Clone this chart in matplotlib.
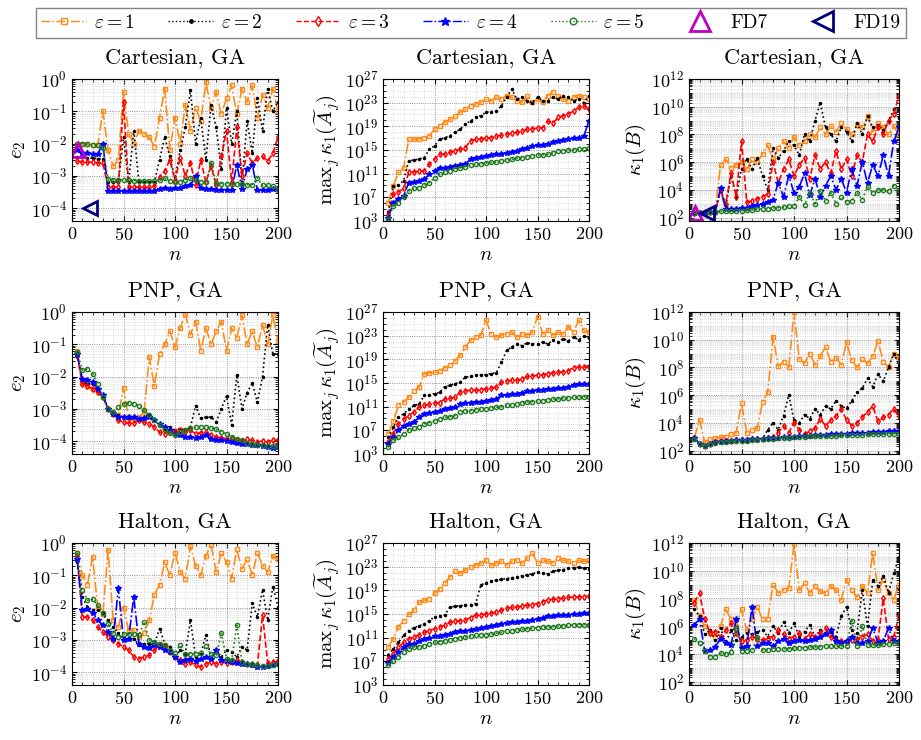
import numpy as np
import matplotlib.pyplot as plt
from matplotlib.lines import Line2D
from matplotlib.ticker import LogLocator, MultipleLocator

plt.rcParams.update({
    "font.family": "serif",
    "font.serif": ["cmr10"],
    "mathtext.fontset": "cm",
    "axes.formatter.use_mathtext": True,
})

# sample sizes
n = np.arange(5, 201, 5)

# ---- Cartesian, GA : log10 of e_2 ----
cart_e2_1 = [-2.0, -2.0, -2.02, -2.05, -2.05, -1.0, -2.2, -2.7, -2.5, -0.4, -1.7, -2.0, -1.6, -1.7, -1.8, -2.1, -1.2, -0.3, -2.2, -1.2,
             -2.0, -0.8, -1.6, -0.9, -1.3, -0.1, -0.9, -0.4, -1.1, -0.6, -0.2, -1.1, -0.3, -0.7, -0.2, -1.2, -0.5, -0.9, -0.3, -1.0]
cart_e2_2 = [-2.42, -2.43, -2.45, -2.45, -2.47, -2.47, -3.2, -3.2, -3.2, -1.8, -3.2, -1.6, -3.2, -3.2, -3.2, -3.2, -2.5, -1.8, -2.4, -3.1,
             -2.2, -1.5, -0.35, -2.0, -1.2, -2.5, -0.8, -1.5, -2.8, -0.9, -2.0, -1.0, -3.2, -1.3, -2.3, -0.6, -1.6, -0.3, -1.0, -0.7]
cart_e2_3 = [-2.55, -2.57, -2.58, -2.58, -2.6, -2.6, -3.35, -3.35, -3.35, -0.7, -3.35, -3.35, -3.35, -3.36, -3.36, -3.33, -3.05, -2.85, -2.5, -3.15,
             -2.45, -3.0, -2.6, -3.3, -2.5, -3.2, -2.7, -3.3, -2.4, -1.6, -3.2, -1.5, -3.0, -2.3, -2.6, -2.45, -2.4, -2.55, -2.3, -1.8]
cart_e2_4 = [-2.2, -2.28, -2.3, -2.32, -2.32, -2.0, -3.47, -3.47, -3.47, -3.46, -3.46, -3.46, -3.46, -3.46, -3.46, -3.46, -3.4, -3.38, -3.4, -3.38,
             -3.37, -3.33, -3.3, -3.0, -3.38, -3.42, -3.42, -3.43, -3.43, -3.43, -3.44, -2.65, -3.4, -2.8, -2.65, -3.45, -3.45, -3.45, -3.4, -3.42]
cart_e2_5 = [-2.0, -2.0, -2.02, -2.05, -2.05, -2.15, -3.1, -3.12, -3.12, -3.13, -3.14, -3.15, -3.15, -3.16, -3.16, -3.17, -3.13, -3.08, -3.15, -3.18,
             -3.18, -3.12, -3.08, -3.13, -3.18, -3.2, -2.6, -3.23, -3.24, -3.25, -3.25, -3.25, -3.26, -3.27, -3.27, -3.06, -3.3, -3.3, -3.32, -3.45]

# ---- Cartesian, GA : log10 of max_j kappa_1(A_j) ----
cart_mk_1 = [6.1, 8.9, 11.2, 12.0, 16.8, 16.8, 16.9, 17.1, 17.4, 18.5, 19.1, 19.7, 20.2, 20.8, 21.4, 21.9, 22.5, 22.8, 23.1, 23.6,
             23.3, 23.9, 23.6, 24.2, 23.9, 23.3, 23.1, 24.2, 23.1, 23.6, 23.1, 24.2, 24.8, 24.2, 23.6, 23.3, 23.9, 24.2, 23.9, 23.6]
cart_mk_2 = [4.5, 8.9, 9.1, 9.8, 13.2, 13.3, 13.5, 13.7, 15.1, 15.7, 16.8, 17.1, 17.4, 18.0, 18.5, 19.4, 19.9, 20.5, 20.8, 21.4,
             21.5, 21.6, 22.5, 23.9, 25.3, 23.6, 23.9, 23.3, 23.0, 23.9, 23.3, 23.3, 23.9, 23.6, 24.2, 23.9, 23.3, 23.6, 23.0, 24.2]
cart_mk_3 = [4.0, 7.5, 7.9, 8.5, 11.2, 11.3, 11.4, 11.5, 12.6, 13.5, 14.3, 14.3, 14.6, 14.9, 15.1, 15.4, 16.6, 16.8, 16.9, 17.0,
             17.1, 17.3, 17.5, 17.7, 17.8, 18.0, 18.2, 18.5, 18.6, 18.7, 18.8, 19.9, 19.5, 20.5, 20.8, 21.1, 21.6, 22.2, 22.5, 21.9]
cart_mk_4 = [3.5, 6.1, 6.7, 7.2, 9.5, 9.6, 9.8, 10.1, 10.9, 11.5, 12.0, 12.0, 12.1, 12.3, 12.4, 12.6, 13.5, 13.7, 13.8, 14.0,
             14.1, 14.3, 14.4, 14.5, 14.7, 14.9, 15.1, 15.4, 15.6, 15.8, 15.9, 16.0, 16.3, 16.6, 16.7, 16.8, 17.0, 17.1, 17.4, 19.9]
cart_mk_5 = [3.3, 5.5, 6.1, 7.0, 8.1, 8.5, 8.6, 9.0, 9.5, 10.3, 10.9, 11.2, 11.5, 11.8, 12.0, 12.2, 12.4, 12.6, 12.7, 12.8,
             12.9, 13.0, 13.2, 13.3, 13.4, 13.6, 13.7, 13.9, 14.0, 14.2, 14.2, 14.3, 14.5, 14.8, 14.9, 15.0, 15.0, 15.1, 15.2, 15.4]

# ---- Cartesian, GA : log10 of kappa_1(B) ----
cart_kb_1 = [2.3, 2.3, 2.35, 2.4, 2.42, 5.8, 6.2, 5.6, 5.8, 6.0, 5.5, 6.2, 6.0, 6.6, 7.2, 6.2, 7.0, 7.5, 7.0, 7.8,
             7.2, 7.5, 8.0, 7.8, 8.5, 8.0, 8.6, 8.2, 8.8, 8.4, 8.0, 8.7, 8.5, 9.3, 8.2, 8.8, 8.5, 8.0, 8.6, 8.0]
cart_kb_2 = [2.3, 2.3, 2.35, 2.4, 2.42, 4.0, 2.8, 5.0, 3.5, 5.5, 6.2, 5.5, 6.3, 5.0, 4.0, 7.0, 6.3, 6.8, 7.5, 7.2,
             6.5, 8.0, 7.5, 9.0, 10.3, 8.5, 8.0, 7.5, 8.5, 8.2, 7.5, 8.8, 8.0, 9.3, 8.5, 8.7, 8.3, 9.0, 9.8, 9.2]
cart_kb_3 = [2.3, 2.3, 2.35, 2.4, 2.42, 4.0, 3.0, 5.2, 3.5, 7.5, 3.1, 3.2, 3.35, 3.5, 3.7, 6.0, 4.5, 5.5, 6.2, 5.0,
             5.8, 6.3, 4.8, 6.5, 5.5, 6.0, 5.2, 6.8, 5.5, 6.2, 5.0, 6.5, 6.0, 8.0, 7.5, 8.5, 8.0, 9.0, 9.5, 10.8]
cart_kb_4 = [2.3, 2.3, 2.35, 2.4, 2.42, 4.1, 2.6, 2.62, 2.64, 2.66, 2.7, 2.8, 2.9, 3.0, 3.1, 3.3, 4.5, 3.5, 5.0, 3.8,
             4.2, 5.2, 3.6, 4.8, 3.5, 4.3, 5.0, 4.0, 4.8, 3.8, 5.5, 4.3, 6.0, 4.5, 5.8, 5.0, 6.5, 5.0, 7.5, 8.5]
cart_kb_5 = [2.3, 2.3, 2.35, 2.4, 2.42, 2.45, 2.5, 2.5, 2.5, 2.5, 2.52, 2.55, 2.6, 2.62, 2.65, 2.7, 2.72, 2.75, 2.8, 2.8,
             3.5, 2.9, 3.8, 3.0, 3.9, 3.2, 3.8, 3.0, 3.5, 3.1, 3.2, 3.8, 3.3, 4.2, 3.8, 4.0, 4.0, 3.9, 4.3, 4.0]

# ---- PNP, GA : log10 of e_2 ----
pnp_e2_1 = [-1.2, -2.2, -2.3, -2.38, -2.48, -2.64, -3.0, -3.1, -3.2, -2.35, -3.3, -3.3, -3.25, -3.1, -1.4, -2.3, -1.3, -1.0, -0.6, -1.1,
            -0.5, -0.05, -0.7, -0.3, -1.2, -0.5, -1.0, -0.6, -0.3, -1.2, -0.5, -0.8, -0.1, -1.0, -0.6, -1.1, -0.4, -1.0, -0.1, -0.9]
pnp_e2_2 = [-1.3, -2.17, -2.22, -2.24, -2.38, -2.58, -3.0, -3.15, -3.2, -3.26, -3.28, -3.26, -3.31, -3.28, -3.15, -3.36, -3.46, -3.62, -3.57, -3.65,
            -3.62, -3.65, -3.57, -2.9, -3.3, -3.26, -3.26, -3.4, -3.0, -2.6, -3.5, -1.95, -3.0, -2.5, -2.2, -2.8, -2.0, -0.4, -1.3, -1.3]
pnp_e2_3 = [-1.35, -2.22, -2.3, -2.38, -2.48, -2.64, -3.0, -3.15, -3.36, -3.41, -3.44, -3.44, -3.36, -3.41, -3.46, -3.57, -3.72, -3.77, -3.69, -3.72,
            -3.67, -3.72, -3.67, -3.77, -3.74, -3.72, -3.82, -3.87, -3.9, -3.92, -3.95, -3.98, -4.0, -3.95, -3.98, -4.03, -4.0, -4.03, -3.96, -3.98]
pnp_e2_4 = [-1.3, -2.07, -2.12, -2.17, -2.38, -2.58, -3.0, -3.15, -3.26, -3.26, -3.24, -3.26, -3.31, -3.28, -3.26, -3.36, -3.46, -3.57, -3.67, -3.79,
            -3.82, -3.86, -3.88, -3.9, -3.86, -3.82, -3.93, -3.96, -3.98, -4.0, -4.03, -4.05, -4.08, -4.1, -4.11, -4.13, -4.15, -4.19, -4.21, -4.19]
pnp_e2_5 = [-1.25, -1.8, -1.76, -1.91, -2.22, -2.64, -3.0, -3.1, -2.95, -2.86, -2.82, -2.84, -2.92, -3.05, -3.2, -3.36, -3.51, -3.67, -3.75, -3.82,
            -3.72, -3.65, -3.6, -3.57, -3.57, -3.57, -3.59, -3.64, -3.72, -3.77, -3.86, -3.93, -3.98, -4.05, -4.08, -4.11, -4.13, -4.15, -4.16, -4.15]

# ---- PNP, GA : log10 of max_j kappa_1(A_j) ----
pnp_mk_1 = [6.4, 8.6, 11.2, 11.8, 12.6, 13.7, 14.3, 16.6, 16.7, 16.8, 17.1, 17.6, 18.0, 18.8, 19.7, 21.1, 22.2, 22.8, 23.1, 25.6,
            23.3, 22.8, 23.1, 23.3, 23.6, 22.8, 23.3, 23.1, 23.6, 26.2, 23.3, 23.9, 23.1, 23.6, 23.3, 24.5, 23.6, 25.6, 23.9, 23.6]
pnp_mk_2 = [5.8, 7.5, 9.2, 9.8, 10.6, 11.2, 11.4, 12.9, 13.0, 13.2, 13.4, 14.4, 14.6, 14.9, 15.1, 16.0, 16.1, 16.3, 16.4, 16.4,
            16.6, 16.7, 18.5, 20.5, 21.1, 21.6, 21.3, 21.8, 21.6, 21.6, 21.9, 21.6, 22.2, 21.9, 22.5, 22.1, 22.8, 22.3, 22.9, 22.6]
pnp_mk_3 = [5.0, 6.4, 8.1, 8.9, 9.5, 10.1, 10.9, 11.2, 11.4, 11.6, 11.7, 12.3, 12.4, 12.6, 13.5, 13.7, 13.75, 13.8, 13.9, 14.0,
            14.1, 14.3, 15.1, 15.4, 15.45, 15.5, 15.6, 16.1, 16.2, 16.3, 16.4, 16.6, 16.7, 16.8, 16.9, 17.1, 17.6, 17.7, 17.7, 17.7]
pnp_mk_4 = [4.7, 5.8, 7.0, 7.8, 8.1, 8.4, 9.2, 9.8, 9.9, 10.1, 10.2, 10.6, 10.7, 10.9, 11.4, 11.6, 11.7, 11.8, 11.85, 11.9,
            12.1, 12.3, 12.9, 13.0, 13.1, 13.2, 13.3, 13.6, 13.7, 13.8, 13.9, 14.0, 14.05, 14.1, 14.2, 14.4, 14.6, 14.8, 14.85, 14.9]
pnp_mk_5 = [4.1, 5.3, 5.8, 6.4, 7.1, 7.4, 7.6, 8.1, 8.3, 8.6, 8.9, 9.2, 9.3, 9.5, 10.1, 10.2, 10.35, 10.5, 10.55, 10.6,
            10.75, 10.9, 11.0, 11.2, 11.3, 11.4, 11.6, 11.8, 11.85, 11.9, 12.0, 12.2, 12.25, 12.3, 12.4, 12.5, 12.55, 12.6, 12.65, 12.7]

# ---- PNP, GA : log10 of kappa_1(B) ----
pnp_kb_1 = [2.9, 4.2, 2.6, 2.8, 2.9, 2.95, 3.0, 3.2, 3.3, 5.4, 3.3, 3.5, 3.6, 5.5, 6.2, 10.2, 8.1, 8.4, 8.0, 12.0,
            8.6, 8.3, 9.0, 8.2, 8.8, 9.5, 8.4, 8.7, 8.2, 9.8, 8.5, 8.0, 8.6, 8.3, 8.8, 9.9, 8.4, 8.0, 9.0, 8.7]
pnp_kb_2 = [2.9, 2.5, 2.3, 2.5, 2.6, 2.7, 2.7, 2.72, 2.75, 2.75, 2.78, 2.8, 2.85, 2.85, 3.5, 4.0, 3.5, 4.5, 6.0, 4.2,
            4.0, 4.6, 4.3, 5.0, 4.6, 5.2, 5.0, 5.6, 5.2, 5.05, 5.6, 6.2, 6.5, 7.2, 6.6, 7.5, 7.0, 8.0, 9.0, 8.2]
pnp_kb_3 = [2.9, 2.5, 2.3, 2.5, 2.6, 2.7, 2.7, 2.72, 2.75, 2.75, 2.78, 2.8, 2.85, 2.85, 2.9, 3.0, 3.3, 3.8, 3.3, 4.0,
            3.5, 3.2, 3.4, 3.6, 4.3, 3.8, 4.2, 4.5, 5.0, 4.2, 3.8, 4.0, 4.4, 4.8, 5.2, 4.1, 4.4, 4.6, 5.0, 4.5]
pnp_kb_4 = [2.9, 2.5, 2.3, 2.5, 2.6, 2.65, 2.7, 2.72, 2.74, 2.75, 2.77, 2.8, 2.83, 2.85, 2.88, 2.9, 2.93, 2.95, 2.98, 3.0,
            3.03, 3.05, 3.08, 3.1, 3.12, 3.14, 3.16, 3.18, 3.2, 3.22, 3.24, 3.26, 3.28, 3.3, 3.32, 3.34, 3.36, 3.38, 3.4, 3.42]
pnp_kb_5 = [2.85, 2.5, 2.3, 2.5, 2.55, 2.62, 2.65, 2.67, 2.68, 2.7, 2.72, 2.75, 2.78, 2.8, 2.83, 2.85, 2.88, 2.9, 2.93, 2.97,
            2.99, 3.0, 3.02, 3.03, 3.04, 3.05, 3.07, 3.08, 3.1, 3.1, 3.12, 3.13, 3.15, 3.16, 3.17, 3.18, 3.19, 3.2, 3.21, 3.22]

# ---- Halton, GA : log10 of e_2 ----
hal_e2_1 = [-0.3, -1.0, -1.3, -0.42, -2.0, -2.2, -0.21, -2.4, -2.6, -2.0, -2.7, -2.7, -2.9, -2.8, -2.4, -1.6, -1.3, -0.6, -1.0, -0.3,
            -0.9, -1.1, -0.1, -0.7, -1.0, -0.4, -0.05, -0.9, -0.3, -0.6, -1.1, -0.2, -0.8, -0.5, -1.0, -0.3, -0.7, -0.9, -0.4, -0.5]
hal_e2_2 = [-0.6, -1.66, -1.98, -2.08, -2.08, -2.18, -2.39, -2.6, -2.8, -2.96, -2.91, -2.96, -3.17, -3.12, -3.12, -3.12, -2.65, -3.12, -3.22, -3.53,
            -3.32, -3.43, -2.39, -3.53, -3.43, -2.86, -3.53, -3.32, -3.53, -3.32, -3.38, -3.53, -3.22, -3.32, -1.87, -2.29, -1.45, -2.39, -1.35, -1.97]
hal_e2_3 = [-0.4, -2.29, -2.29, -2.39, -2.6, -2.75, -2.91, -3.01, -3.12, -3.22, -3.32, -3.53, -3.58, -3.53, -3.48, -3.32, -3.17, -3.22, -3.38, -3.53,
            -3.64, -3.74, -3.69, -3.79, -3.84, -3.74, -3.69, -3.74, -3.69, -3.72, -3.69, -3.64, -3.69, -3.74, -3.76, -3.79, -2.23, -3.72, -3.69, -3.66]
hal_e2_4 = [-0.5, -2.08, -2.06, -2.18, -2.39, -2.55, -2.75, -2.96, -1.4, -3.01, -2.96, -1.66, -3.12, -3.22, -3.24, -3.17, -3.22, -3.32, -3.38, -3.53,
            -3.69, -3.62, -3.59, -3.66, -3.59, -3.53, -3.59, -3.3, -3.64, -3.66, -3.69, -3.72, -3.74, -3.76, -3.79, -3.84, -3.84, -3.82, -3.79, -3.76]
hal_e2_5 = [-0.3, -1.45, -1.77, -1.75, -1.92, -2.18, -2.5, -2.8, -2.91, -2.83, -2.81, -2.83, -2.86, -2.44, -3.0, -3.06, -3.12, -3.17, -3.32, -3.41,
            -3.17, -3.45, -3.43, -3.43, -3.41, -3.2, -3.45, -3.48, -2.8, -3.58, -3.64, -2.55, -3.69, -3.74, -3.76, -3.79, -3.81, -3.82, -3.79, -3.76]

# ---- Halton, GA : log10 of max_j kappa_1(A_j) ----
hal_mk_1 = [9.4, 10.8, 12.8, 13.9, 15.0, 15.6, 17.0, 17.3, 17.6, 18.5, 19.3, 20.2, 21.3, 22.2, 21.9, 22.4, 23.0, 23.3, 23.6, 24.1,
            23.3, 23.6, 23.9, 23.3, 23.9, 24.1, 23.6, 24.4, 25.3, 23.6, 24.1, 23.9, 23.7, 24.4, 24.1, 23.9, 23.6, 24.1, 23.9, 24.1]
hal_mk_2 = [8.1, 9.1, 10.2, 11.4, 12.2, 12.7, 13.0, 13.3, 13.9, 14.5, 14.7, 14.8, 16.2, 16.3, 16.4, 16.5, 16.6, 16.75, 19.9, 20.3,
            20.5, 20.7, 20.85, 21.0, 21.1, 21.3, 21.45, 21.6, 21.8, 22.1, 21.9, 21.8, 22.2, 22.4, 22.5, 22.7, 22.8, 22.9, 22.7, 22.6]
hal_mk_3 = [7.4, 8.2, 9.4, 10.2, 10.8, 11.1, 11.5, 11.9, 12.2, 12.5, 12.8, 13.1, 13.6, 13.8, 13.9, 14.0, 14.4, 14.8, 14.9, 15.0,
            15.15, 15.3, 15.65, 16.0, 16.1, 16.2, 16.35, 16.5, 16.6, 16.75, 17.1, 17.4, 17.5, 17.6, 17.7, 17.8, 17.85, 17.9, 17.95, 18.0]
hal_mk_4 = [6.8, 7.7, 8.5, 9.4, 9.9, 10.0, 10.4, 10.8, 11.0, 11.2, 11.35, 11.5, 11.7, 11.9, 12.05, 12.2, 12.35, 12.5, 12.65, 12.8,
            12.95, 13.1, 13.3, 13.5, 13.6, 13.7, 13.8, 13.9, 14.05, 14.2, 14.4, 14.6, 14.7, 14.8, 14.85, 14.9, 14.95, 15.0, 15.1, 15.2]
hal_mk_5 = [6.4, 7.0, 7.7, 8.5, 9.1, 9.4, 9.5, 9.6, 9.9, 10.2, 10.35, 10.5, 10.65, 10.8, 10.95, 11.1, 11.25, 11.4, 11.45, 11.5,
            11.6, 11.75, 11.9, 12.1, 12.2, 12.3, 12.4, 12.5, 12.6, 12.7, 12.75, 12.8, 12.85, 12.9, 13.0, 13.1, 13.15, 13.2, 13.2, 13.2]

# ---- Halton, GA : log10 of kappa_1(B) ----
hal_kb_1 = [7.9, 6.7, 6.0, 5.5, 5.25, 6.0, 7.2, 6.5, 6.0, 7.2, 5.7, 6.5, 7.4, 6.5, 6.5, 9.0, 8.4, 8.6, 8.75, 11.9,
            8.6, 9.1, 8.4, 8.9, 8.5, 8.4, 8.9, 8.6, 7.9, 9.35, 8.6, 8.1, 8.9, 8.4, 11.3, 8.6, 9.35, 8.4, 7.9, 9.0]
hal_kb_2 = [7.2, 6.7, 5.4, 5.7, 5.0, 5.86, 4.8, 5.7, 5.0, 5.25, 5.5, 5.4, 5.6, 5.7, 5.25, 6.0, 5.5, 6.3, 5.5, 6.2,
            5.25, 5.6, 6.1, 5.25, 5.7, 5.5, 5.6, 5.25, 6.7, 7.4, 5.7, 5.5, 8.6, 6.0, 9.3, 8.9, 9.6, 8.4, 9.8, 11.0]
hal_kb_3 = [7.7, 8.4, 6.5, 5.5, 5.6, 5.25, 5.7, 6.2, 5.5, 4.9, 5.0, 5.25, 5.1, 5.0, 5.1, 5.25, 5.7, 5.4, 5.1, 5.25,
            5.5, 5.1, 5.4, 5.25, 5.5, 5.86, 5.25, 5.0, 4.9, 4.95, 5.0, 5.05, 5.25, 5.4, 4.95, 5.0, 8.0, 5.1, 5.25, 6.7]
hal_kb_4 = [6.1, 6.5, 4.2, 4.3, 4.5, 5.1, 4.8, 4.65, 6.5, 4.41, 4.53, 7.4, 4.53, 4.77, 4.77, 4.53, 4.9, 5.1, 4.77, 4.9,
            5.0, 4.9, 5.0, 5.1, 5.25, 5.4, 5.75, 4.9, 4.77, 4.9, 5.25, 4.77, 4.8, 4.9, 5.86, 4.8, 4.9, 5.86, 4.9, 4.96]
hal_kb_5 = [5.1, 4.8, 4.2, 3.8, 3.8, 4.05, 4.0, 4.1, 5.85, 4.2, 4.22, 4.25, 5.2, 4.28, 4.3, 4.35, 4.35, 4.37, 4.38, 4.4,
            4.42, 4.45, 4.5, 4.5, 4.52, 4.6, 4.6, 4.55, 4.55, 4.6, 6.4, 4.6, 6.0, 4.65, 4.65, 4.65, 4.7, 4.7, 4.75, 4.8]

# finite-difference reference values (Cartesian only)
fd_n = [6, 17]
fd_e2 = [-2.2, -4.0]
fd_kb = [2.35, 2.35]

eps_labels = [r"$\varepsilon = 1$", r"$\varepsilon = 2$", r"$\varepsilon = 3$",
              r"$\varepsilon = 4$", r"$\varepsilon = 5$"]
row_titles = ["Cartesian, GA", "PNP, GA", "Halton, GA"]

rows = [
    [[cart_e2_1, cart_e2_2, cart_e2_3, cart_e2_4, cart_e2_5],
     [cart_mk_1, cart_mk_2, cart_mk_3, cart_mk_4, cart_mk_5],
     [cart_kb_1, cart_kb_2, cart_kb_3, cart_kb_4, cart_kb_5]],
    [[pnp_e2_1, pnp_e2_2, pnp_e2_3, pnp_e2_4, pnp_e2_5],
     [pnp_mk_1, pnp_mk_2, pnp_mk_3, pnp_mk_4, pnp_mk_5],
     [pnp_kb_1, pnp_kb_2, pnp_kb_3, pnp_kb_4, pnp_kb_5]],
    [[hal_e2_1, hal_e2_2, hal_e2_3, hal_e2_4, hal_e2_5],
     [hal_mk_1, hal_mk_2, hal_mk_3, hal_mk_4, hal_mk_5],
     [hal_kb_1, hal_kb_2, hal_kb_3, hal_kb_4, hal_kb_5]],
]

styles = [
    dict(color="#ff8c1a", ls="-.", marker="s", ms=3, mfc="none"),
    dict(color="black", ls=":", marker=".", ms=3),
    dict(color="#ff0000", ls="--", marker="d", ms=3, mfc="none"),
    dict(color="#0000ff", ls="-.", marker="*", ms=4),
    dict(color="#1e7a1e", ls=":", marker="o", ms=3, mfc="none"),
]
fd7_style = dict(ls="none", marker="^", color="#c000c0", mfc="none", mew=2)
fd19_style = dict(ls="none", marker="<", color="#00007f", mfc="none", mew=2)

ylabels = [r"$e_2$", r"$\mathrm{max}_j\,\kappa_1(\widetilde{A}_j)$", r"$\kappa_1(B)$"]
ylims = [(10 ** -4.4, 1.0), (1e3, 1e27), (10 ** 1.75, 1e12)]
yticks = [[10.0 ** k for k in range(-4, 1)],
          [10.0 ** k for k in range(3, 28, 4)],
          [10.0 ** k for k in range(2, 13, 2)]]

col_left = [72, 383, 689]
col_width = [206, 206, 210]
row_top = [79, 312, 543]
row_height = 142
W, H = 921, 740

fig = plt.figure(figsize=(W / 100, H / 100), dpi=100)

for r in range(3):
    for c in range(3):
        ax = fig.add_axes([col_left[c] / W, 1 - (row_top[r] + row_height) / H,
                           col_width[c] / W, row_height / H])
        for vals, st in zip(rows[r][c], styles):
            ax.plot(n, 10.0 ** np.array(vals), lw=1.2, mew=1.0, **st)
        if r == 0 and c != 1:
            fd_vals = fd_e2 if c == 0 else fd_kb
            ax.plot(fd_n[0], 10.0 ** fd_vals[0], ms=10, **fd7_style)
            ax.plot(fd_n[1], 10.0 ** fd_vals[1], ms=10, **fd19_style)

        ax.set_yscale("log")
        ax.set_xlim(0, 200)
        ax.set_ylim(*ylims[c])
        ax.set_yticks(yticks[c])
        if c == 1:
            ax.yaxis.set_minor_locator(LogLocator(base=10, subs=(1.0,), numticks=40))
        else:
            ax.yaxis.set_minor_locator(LogLocator(base=10, subs=np.arange(1, 10), numticks=40))
        ax.yaxis.set_minor_formatter(plt.NullFormatter())
        ax.xaxis.set_major_locator(MultipleLocator(50))
        ax.xaxis.set_minor_locator(MultipleLocator(10))
        ax.grid(True, which="major", ls=":", color="0.45", lw=0.6)
        ax.grid(True, which="minor", ls=":", color="0.78", lw=0.5)
        ax.tick_params(which="both", direction="in", top=True, right=True, labelsize=13)
        ax.tick_params(which="minor", length=2)
        ax.set_title(row_titles[r], fontsize=16, pad=11)
        ax.set_xlabel(r"$n$", fontsize=15, labelpad=2)
        ax.set_ylabel(ylabels[c], fontsize=15, labelpad=2)
        ax.set_axisbelow(True)

handles = [Line2D([], [], lw=1.0, mew=1.0, label=lab, **{**st, "ms": st["ms"] * 1.6})
           for lab, st in zip(eps_labels, styles)]
handles.append(Line2D([], [], ms=14, label="FD7", **fd7_style))
handles.append(Line2D([], [], ms=14, label="FD19", **fd19_style))
fig.legend(handles=handles, loc="upper center", bbox_to_anchor=(0.5114, 1.002), ncol=7,
           fontsize=14, frameon=True, fancybox=False, edgecolor="0.4",
           handlelength=2.3, handletextpad=0.4, columnspacing=1.7, borderpad=0.3)

fig.savefig("out.png", dpi=100)
